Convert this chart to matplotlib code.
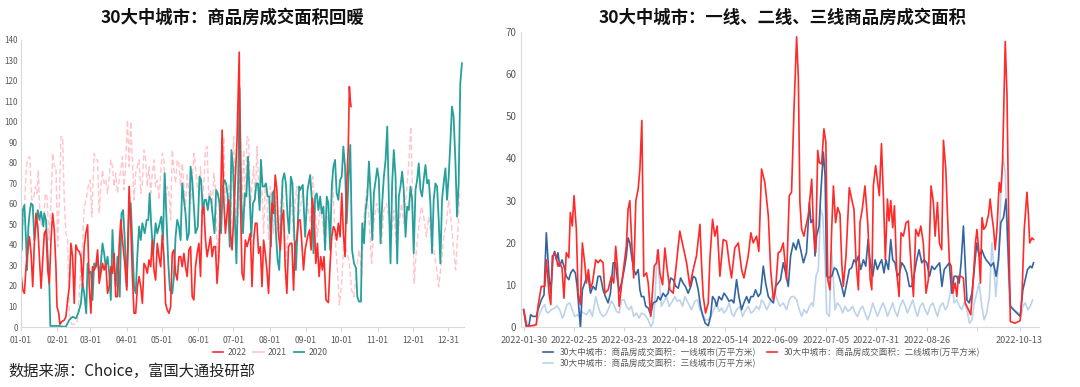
import matplotlib.pyplot as plt
import numpy as np

plt.rcParams['font.family'] = ['Noto Sans CJK SC', 'DejaVu Sans']

# ---------------- left chart: 30 cities, by day of year ----------------
d2022 = [0, 1.4, 2.8, 4.2, 5.7, 7.1, 8.5, 9.9, 11.3, 12.7, 14.2, 15.6, 17, 18.4, 19.8, 21.2, 22.7, 24.1, 25.5, 26.9,
         28.3, 29.7, 30.6, 32, 33.1, 34.6, 36.8, 38.2, 39.7, 41.1, 42.5, 43.9, 45.3, 46.7, 48.2, 49.6, 51, 52.4, 53.8, 55.2,
         56.7, 58.1, 59.5, 60.9, 62.3, 63.7, 65.2, 66.6, 68, 69.4, 70.8, 72.2, 73.7, 75.1, 76.5, 77.9, 79.3, 80.7, 82.2, 83.6,
         85, 86.4, 88.4, 90.1, 92.1, 93.5, 94.9, 96.3, 97.7, 99.2, 100.6, 102, 103.4, 104.8, 106.2, 107.6, 109.1, 110.5, 111.9, 113.3,
         114.7, 116.1, 117.6, 119, 120.4, 121.8, 123.2, 124.6, 126.1, 127.5, 128.9, 130.3, 131.7, 133.1, 134.6, 136, 137.4, 138.8, 140.2, 141.6,
         143.1, 144.5, 145.9, 147.3, 148.7, 150.1, 151.6, 153, 154.4, 155.8, 157.2, 158.6, 160.1, 161.5, 162.9, 164.3, 165.7, 167.1, 168.6, 170,
         171.4, 172.8, 174.2, 175.6, 177.1, 178.5, 179.9, 181.3, 182.7, 184.1, 186, 187, 188.4, 189.8, 191.2, 192.6, 194.1, 195.5, 196.9, 198.3,
         199.7, 201.1, 202.5, 204, 205.4, 206.8, 208.2, 209.6, 211, 212.5, 213.9, 215.3, 216.7, 218.1, 219.5, 221, 222.4, 223.8, 225.2, 226.6,
         228, 229.5, 230.9, 232.3, 233.7, 235.1, 236.5, 238, 239.4, 240.8, 242.2, 244.2, 245.9, 247.3, 248.4, 249.9, 251.3, 252.7, 254.1, 255.5,
         256.9, 258.3, 260, 262, 263.5, 264.9, 266.3, 267.7, 269.1, 270.5, 272, 273.4, 274.8, 276.2, 277.6, 279, 279.9, 280.7, 281.3]
v2022 = [25.4, 18, 16.4, 29.4, 37.6, 44, 35.9, 19.7, 40.8, 55.4, 49, 34.3, 18.9, 32.7, 45.7, 47.3, 27.8, 21.3, 42.4, 55.4,
         47.3, 29.4, 9.9, 7, 1.3, 2.6, 3.4, 5, 13.2, 19.7, 40.8, 34.3, 11.5, 40, 37.6, 36.7, 34.3, 19.7, 39.2, 45.7,
         49.8, 19.7, 6.7, 29.4, 27.8, 29.4, 37.6, 21.3, 26.2, 31, 27.8, 31, 16.4, 19.7, 29.4, 26.2, 35.9, 14.8, 14.8, 39.2,
         52.2, 42.4, 31, 18, 68.5, 50.6, 24.6, 6.7, 6.7, 19.7, 24.6, 19.7, 11.5, 31, 29.4, 26.2, 32.7, 29.4, 42.4, 27.8,
         22.9, 40.8, 34.3, 29.4, 44.9, 34.3, 11.5, 8.3, 6.7, 9.9, 35.9, 37.6, 26.2, 22.9, 34.3, 34.3, 29.4, 35.9, 29.4, 24.6,
         37.6, 39.2, 14.8, 13.2, 29.4, 35.9, 40.8, 24.6, 57, 58.7, 42.4, 34.3, 39.2, 44, 34.3, 39.2, 39.2, 21.3, 34.3, 57,
         96, 62, 45.7, 55.4, 62, 45.7, 37.6, 53.8, 73.3, 91.2, 134, 62, 26.2, 22.9, 42.4, 39.2, 42.4, 45.7, 19.7, 42.4,
         50.6, 50.6, 35.9, 39.2, 19.7, 42.4, 35.9, 27.8, 16.4, 39.2, 60.3, 55.4, 74.1, 66.8, 45.7, 37.6, 52.2, 57, 29.4, 16.4,
         39.2, 40.8, 40.8, 18, 40.8, 42.4, 52.2, 52.2, 40.8, 27.8, 37.6, 44, 47.3, 37.6, 62.8, 53.8, 31, 40.8, 24.6, 34.3,
         27.8, 34.3, 13.2, 11.9, 31, 44, 48.9, 47.3, 42.4, 50.6, 44, 65.2, 45.7, 34.3, 68.5, 88, 117.2, 110.7, 107.5]

d2021 = [0.6, 2.8, 4.5, 5.7, 7.4, 9.1, 10.5, 12.2, 13.6, 14.7, 16.1, 17.6, 19.3, 20.7, 22.1, 23.8, 25.5, 26.9, 28.3, 29.7,
         31.2, 32.6, 34, 35.4, 36.8, 38.2, 39.7, 41.1, 43.1, 45.9, 48.2, 51, 52.4, 53.8, 55.5, 57.2, 58.9, 60.3, 62.3, 63.7,
         65.2, 66.6, 68, 69.4, 70.8, 72.2, 73.7, 75.1, 76.5, 77.9, 79.3, 80.7, 82.2, 83.6, 85, 86.4, 87.8, 89.2, 90.7, 92.1,
         93.5, 94.9, 96.3, 97.7, 99.2, 100.6, 102, 103.4, 104.8, 106.2, 107.6, 109.1, 110.5, 111.9, 113.3, 114.7, 116.1, 117.6, 119, 120.4,
         121.8, 123.2, 124.6, 126.1, 127.5, 128.9, 130.3, 131.7, 133.1, 134.6, 136, 137.4, 138.8, 140.2, 141.6, 143.1, 144.5, 145.9, 147.3, 148.7,
         150.1, 151.6, 153, 154.4, 155.8, 157.2, 158.6, 160.1, 161.5, 162.9, 164.3, 165.7, 167.1, 168.6, 170, 171.4, 172.8, 174.2, 175.6, 177.1,
         178.5, 179.9, 181.3, 182.7, 184.1, 185.6, 187, 188.4, 189.8, 191.2, 192.6, 194.1, 195.5, 196.9, 198.3, 199.7, 201.1, 202.5, 204, 205.4,
         206.8, 208.2, 209.6, 211, 212.5, 213.9, 215.3, 216.7, 218.1, 219.5, 221, 222.4, 223.8, 225.2, 226.6, 228, 229.5, 230.9, 232.3, 233.7,
         235.1, 236.5, 238, 240.2, 242.2, 244.2, 246.5, 248.7, 250.7, 252.7, 255, 257.2, 259.2, 261.2, 263.5, 265.7, 267.7, 269.7, 271.4, 273.4,
         275.4, 277.6, 279.9, 281.9, 283.9, 286.1, 288.4, 290.4, 292.4, 294.6, 296.9, 298.9, 300.8, 303.1, 305.4, 307.4, 309.3, 311.6, 313.9, 315.9,
         317.8, 320.1, 322.4, 324.4, 326.3, 328.6, 330.6, 332.3, 333.7, 335.1, 337.1, 339.4, 341.4, 343.3, 345.6, 347.6, 349.9, 351.8, 354.1, 356.1,
         358.4, 360.3, 362.6, 364.6, 366.9, 368.8, 370.5, 372.2, 374]
v2021 = [45.7, 57, 78.2, 82.3, 83, 62, 62, 68.5, 65.2, 76.6, 53.8, 49, 53.8, 65.2, 63.6, 42.4, 62, 84.7, 78.2, 78.2,
         39.2, 62, 92.8, 92.8, 62, 45.7, 42.4, 6.7, 1.3, 1.3, 3.4, 29.4, 40.8, 58.7, 62, 68.5, 71.7, 53.8, 84.7, 81.5,
         81.5, 55.4, 68.5, 76.6, 70, 71.7, 65.2, 73.3, 81.5, 78.2, 68.5, 75, 65.2, 71.7, 76.6, 83, 66.8, 79.8, 101, 78.2,
         100.2, 81.5, 62, 75, 78.2, 81.5, 65.2, 70, 86.3, 81.5, 68.5, 78.2, 65.2, 75, 81.5, 68.5, 71.7, 62, 75, 84.7,
         81.5, 60.3, 68.5, 65.2, 52.2, 86.3, 76.6, 70, 81.5, 79.8, 68.5, 79.8, 68.5, 57, 75, 65.2, 60.3, 70, 84.7, 78.2,
         68.5, 65.2, 78.2, 49, 70, 86.3, 88, 62, 66.8, 55.4, 75, 68.5, 32.7, 45.7, 62, 70, 92.8, 62, 57, 70,
         37.6, 78.2, 92.8, 62, 45.7, 62, 92, 62, 86.3, 58.7, 92.8, 91.2, 57, 70, 78.2, 62, 88, 70, 60.3, 66.8,
         45.7, 70, 62, 42.4, 68.5, 62, 45.7, 63.6, 53.8, 42.4, 57, 68.5, 62, 29.4, 37.6, 49, 62, 58.7, 42.4, 62,
         68.5, 53.8, 57, 66.8, 50.6, 60.3, 50.6, 73.3, 57, 44, 58.7, 50.6, 37.6, 53.8, 50.6, 71.7, 44, 27.8, 10.7, 21.3,
         44, 37.6, 31, 17.9, 14.8, 29.4, 37.6, 24.6, 53.8, 66.8, 50.6, 31, 50.6, 60.3, 53.8, 40.8, 57, 60.3, 52.2, 44,
         57, 37.6, 50.6, 60.3, 50.6, 65.2, 79.8, 97.7, 66.8, 21.3, 37.6, 50.6, 58.7, 53.8, 44, 53.8, 44, 37.6, 29.4, 19.7,
         31, 44, 50.6, 62, 50.6, 37.6, 27.8, 44, 66.8]

d2020 = [0.6, 1.4, 2.8, 4.2, 5.1, 6.2, 7.4, 8.5, 9.9, 11.3, 12.5, 14.2, 15.6, 17, 19, 19.8, 21.2, 22.7, 24.1, 24.9,
         28.3, 32.6, 35.4, 38.2, 41, 43.9, 46.7, 48.7, 51, 52.4, 53.8, 55.5, 56.7, 58.1, 59.5, 60.9, 62.3, 63.7, 65.2, 67.1,
         69.4, 70.8, 72.2, 73.7, 75.1, 76.5, 77.9, 79.3, 80.7, 82.2, 84.1, 85.6, 87, 88.4, 90.1, 92.1, 93.5, 94.9, 96.3, 97.7,
         99.2, 100.6, 102, 103.4, 105.4, 107.1, 108.5, 109.6, 111, 112.7, 114.7, 116.1, 117.6, 119.5, 121, 122.4, 123.8, 125.5, 126.9, 128.9,
         130.3, 131.7, 133.1, 134.6, 136, 137.4, 138.8, 140.2, 141.6, 143.1, 144.5, 145.9, 147.3, 148.7, 150.7, 152.1, 153.5, 155, 156.4, 157.8,
         159.2, 160.6, 162, 163.5, 164.9, 166.3, 167.7, 169.1, 170.5, 172, 173.4, 174.8, 176.2, 177.9, 179.3, 180.7, 182.2, 183.6, 185, 186.3,
         187.8, 189.2, 190.7, 192.1, 193.5, 194.9, 196.3, 197.7, 199.2, 200.6, 202, 203.4, 204.5, 205.9, 207.4, 208.8, 210.2, 211.6, 213, 214.4,
         215.9, 217.3, 218.7, 220.1, 221.5, 223, 224.4, 225.8, 227.2, 228.6, 230, 231.4, 232.9, 234.3, 235.7, 237.1, 238, 240.2, 242.2, 244.2,
         246.5, 247.9, 249.3, 250.7, 252.1, 253.5, 255, 256.4, 257.8, 259.2, 260.6, 262, 263.5, 264.9, 266.3, 267.7, 269.1, 270.5, 272, 273.4,
         274.8, 276.2, 277.6, 279.3, 280.7, 282.2, 283.9, 285.6, 286.7, 288.1, 289.8, 290.9, 292.4, 293.8, 295.2, 296.6, 298, 299.4, 300.8, 302.5,
         303.7, 305.1, 306.5, 307.9, 309.3, 310.8, 312.2, 313.6, 315, 316.4, 317.8, 319.3, 320.7, 322.1, 323.5, 324.9, 326.3, 327.8, 329.2, 330.6,
         332, 333.4, 334.8, 336.3, 337.7, 339.1, 340.5, 341.9, 343.3, 344.8, 346.2, 347.6, 349, 350.4, 351.8, 353.3, 354.7, 356.1, 357.5, 358.9,
         360.3, 361.8, 363.2, 364.6, 366, 367.4, 368.8, 370.3, 371.7, 373.1, 374.5, 375.9]
v2020 = [37.6, 57, 59.5, 42.4, 27.8, 49, 56.3, 60.3, 59.5, 42.4, 49, 57, 52.2, 56.3, 49, 55.4, 52.2, 34.3, 19.7, 0.5,
         0.5, 0.5, 0.2, 0.2, 3.4, 5, 4.2, 6.7, 11.5, 21.3, 16.4, 6.7, 31, 26.2, 27, 13.2, 31, 29.4, 32.7, 24.6,
         40.8, 35.9, 29.4, 34.3, 26.2, 13.2, 47.3, 29.4, 19.7, 34.3, 14.8, 55.4, 57, 42.4, 19.7, 57, 60.3, 40.8, 19.7, 16.4,
         35.9, 49, 42.4, 50.6, 45.7, 52.2, 52.2, 65.2, 49, 35.9, 50.6, 45.7, 49, 53.8, 42.4, 75, 55.4, 31, 18, 16.4,
         24.6, 44, 52.2, 49, 42.4, 70, 62, 55.4, 42.4, 45.7, 78.2, 71.7, 58.7, 45.7, 49, 73.3, 71.7, 55.4, 62, 62,
         57, 63.6, 62, 53.8, 45.7, 66.8, 65.2, 60.3, 45.7, 68.5, 71.7, 70, 63.6, 39.2, 86.3, 78.2, 53.8, 31, 68.5, 116.5,
         62, 45.7, 65.2, 63.6, 83, 63.6, 44, 60.3, 62, 70, 70, 57, 81.5, 68.5, 68.5, 70, 63.6, 63.6, 39.2, 65.2,
         66.8, 45.7, 32.7, 27.8, 49, 71.7, 75, 70, 53.8, 45.7, 73.3, 70, 45.7, 27.8, 47.3, 68.5, 66.8, 69.3, 44, 66.8,
         74.1, 62, 36, 63.6, 65.2, 57, 63.6, 55.4, 58.7, 37.6, 63.6, 60.3, 37.6, 68.5, 78.2, 81.5, 65.2, 62, 71.7, 73.3,
         88, 78.2, 50.6, 73.3, 88.8, 37.6, 31, 28.6, 14.8, 12.4, 12.4, 50.6, 40.8, 57, 63.6, 80.7, 65.2, 42.4, 65.2, 72.5,
         77.4, 71.7, 40.8, 60.3, 73.3, 81.5, 97.7, 62, 31, 70, 86.3, 73.3, 31, 63.6, 68.5, 75.8, 66.8, 44, 58.7, 57,
         68.5, 62, 36, 66.8, 71.7, 79.8, 66.8, 63.6, 71.7, 79, 70, 71.7, 60.3, 36, 62, 70, 68.5, 52.2, 31, 62,
         70, 77.4, 62, 73.3, 89.6, 107.5, 102.6, 81.5, 53.8, 70, 118.9, 128.6]

left_ticks = [0, 31, 59, 90, 120, 151, 181, 212, 243, 273, 304, 334, 364]
left_labels = ['01-01', '02-01', '03-01', '04-01', '05-01', '06-01', '07-01',
               '08-01', '09-01', '10-01', '11-01', '12-01', '12-31']

# ---------------- right chart: tier 1/2/3 cities, days since 2022-01-30 ----------------
d_t1 = [0, 1.4, 2.8, 3.6, 4.8, 6.5, 7.4, 9.1, 10.5, 11.7, 13.1, 14, 15.2, 16, 16.9, 17.7, 18.6, 19.8, 20.8, 22,
        23.3, 24.3, 25.5, 26.7, 27.6, 28.4, 29.3, 30.3, 31.5, 32.4, 33.2, 34.5, 35.8, 37.2, 38.4, 39.6, 41, 42.2, 43.6, 44.8,
        46.2, 47.4, 48.4, 49.3, 50.5, 51.9, 53, 53.9, 54.8, 56, 56.8, 57.9, 59.1, 60, 60.8, 62, 63, 64.3, 65.6, 66.8,
        68.6, 69.4, 70.6, 72, 73.2, 74.6, 75.8, 77.2, 78.6, 79.8, 81, 82.3, 83.5, 84.9, 86.3, 87.5, 88.7, 90.1, 91.3, 92.3,
        93.7, 95.3, 96.5, 97.5, 98.7, 99.6, 100.8, 102.2, 103.4, 104.7, 106, 107.3, 108.5, 109.9, 111.1, 112.5, 113.7, 115.1, 116.3, 117.3,
        118.5, 119.7, 121.1, 122.3, 123.7, 124.9, 126.3, 127.5, 128.9, 130, 131.4, 132.6, 134, 135.2, 136.6, 137.8, 139.2, 140.6, 141.8, 143,
        144.4, 146, 147.5, 148.3, 149.5, 150.4, 151.2, 152.5, 153.5, 154.7, 155.6, 156.4, 157.3, 159, 160.4, 161.6, 163, 164.2, 165.4, 166.8,
        168.1, 169.3, 170.5, 171.6, 172.8, 174, 175.4, 176.6, 177.8, 178.9, 180.2, 181.4, 182.6, 184, 184.8, 186, 187, 188.3, 189.5, 190.5,
        191.7, 192.9, 194, 195.2, 196.4, 197.8, 199.1, 200.3, 201.7, 202.9, 204.1, 205.5, 206.7, 208.1, 209.5, 210.7, 212, 213.3, 214.7, 215.9,
        217.1, 218.4, 219.7, 221, 222.2, 223.6, 224.8, 225.8, 227, 227.9, 228.8, 230, 231.4, 232.6, 233.9, 235.1, 236.5, 237.7, 238.7, 240,
        241.2, 242.5, 243.9, 245.1, 246.3, 247.7, 249, 250.3, 251.2, 253.7, 256.3, 257.7, 258.9, 260.1, 261.5, 262.4, 263.2]
v_t1 = [4.2, 0.2, 0.6, 3, 2.6, 2.6, 4.2, 6.5, 7.7, 22.4, 12.1, 8.1, 16.9, 18, 16, 17.7, 14.5, 16, 14.5, 12.1,
        11.3, 12.9, 13.7, 12.9, 9.7, 5, 0, 8.9, 10.5, 11.7, 12.5, 8.1, 9.7, 8.9, 12.1, 12.1, 8.9, 7.3, 5.8, 8.1,
        15.3, 15.3, 11.3, 8.5, 10.5, 13.7, 16.9, 21.2, 20, 16, 13.7, 12.5, 13.7, 8.9, 7.3, 7.3, 5, 4.6, 3, 5.8,
        6.2, 7.3, 6.5, 8.1, 7.3, 8.1, 11.7, 11.3, 9.7, 9.3, 11.7, 10.5, 9.7, 8.1, 9.7, 12.1, 11.7, 8.9, 5, 3,
        1, 0.4, 2.6, 7.3, 6.5, 5, 7.3, 6.5, 8.1, 7.3, 6.2, 6.5, 5.8, 11.3, 7.3, 4.2, 5.8, 7.3, 5.8, 7.3,
        7.3, 8.9, 7.3, 8.1, 14.5, 10.5, 7.3, 6.5, 5.8, 9.7, 10.5, 11.3, 15.3, 12.9, 9.7, 16.9, 20, 18.4, 20.8, 18.4,
        15.3, 17.7, 29.6, 24.8, 25.6, 16.9, 21.6, 24, 32.7, 41.5, 35.9, 12.1, 11.7, 12.1, 14.1, 13.7, 11.7, 9.7, 7.3, 10.5,
        13.7, 14.1, 16, 15.3, 16.9, 13.7, 16, 14.5, 20.8, 15.3, 12.1, 16, 13.7, 15.3, 16, 12.9, 16, 13.7, 20.8, 16,
        15.3, 12.1, 12.9, 15.3, 14.5, 12.9, 9.7, 9.7, 12.9, 16, 18.4, 15.3, 16, 15.3, 12.1, 14.5, 13.7, 14.5, 15.3, 9.7,
        13.7, 14.5, 15.3, 8.1, 12.1, 12.1, 10.5, 15.3, 24, 15.3, 6.5, 5.8, 8.1, 13.7, 20, 16.9, 18.4, 16.9, 16, 15.3,
        14.5, 15.3, 12.1, 16, 24.8, 26, 30.4, 15.3, 5, 3.8, 2.6, 8.9, 11.3, 13.7, 14.5, 14.1, 15.3]

d_t2 = [0, 1.4, 6.5, 7.4, 9.1, 10.9, 11.7, 13.1, 14, 14.8, 16.5, 17.7, 18.6, 19.8, 20.8, 22, 23.3, 24.1, 25.1, 26,
        27.2, 28.1, 29.3, 30.3, 31.5, 32.4, 33.4, 34.5, 35.5, 37.2, 38.4, 39.6, 41, 41.9, 43.6, 45.3, 46.5, 47.5, 48.4, 49.3,
        51.3, 53, 53.9, 54.8, 55.8, 56.8, 57.9, 59.1, 60, 61, 62, 63.4, 64.3, 65.6, 67.4, 68.6, 69.4, 70.3, 71.7, 72.9,
        74.1, 75.5, 77.2, 78.9, 80.6, 82.3, 84.1, 85.8, 87.5, 89.2, 91, 91.8, 92.7, 93.9, 95.3, 96.1, 97.5, 98.7, 99.9, 101.3,
        103, 104.7, 106.1, 107.3, 109, 110.8, 112.5, 113.7, 115.9, 117.3, 118.5, 120.2, 121.4, 122.8, 124.5, 126.3, 127.5, 128.9, 130, 131.4,
        132.6, 134, 135.7, 137.1, 138.3, 139.5, 140.9, 141.8, 142.6, 143.5, 144.7, 145.7, 146.9, 148.7, 149.6, 150.7, 151.8, 152.6, 153.8, 155,
        156, 157, 158.1, 159, 159.9, 161, 162.1, 163.3, 164.2, 165, 166.4, 168.1, 169.3, 170.5, 171.6, 172.8, 173.6, 174.8, 176.2, 177.6,
        178.9, 179.7, 180.5, 181.7, 182.8, 183.6, 184.7, 185.7, 186.7, 187.8, 188.6, 189.5, 190.5, 191.4, 192.6, 193.8, 194.8, 196, 197.4, 198.6,
        200, 201.2, 202.4, 203.8, 205, 206.3, 207.7, 208.9, 210.3, 211.5, 212.4, 213.6, 214.6, 215.8, 216.7, 217.9, 218.8, 219.8, 220.7, 221.5,
        222.7, 223.6, 224.4, 225.7, 227, 227.9, 229.6, 230.8, 232, 233.2, 234, 234.9, 235.8, 236.6, 237.5, 238.6, 240, 240.8, 241.7, 242.6,
        243.4, 244.3, 245.5, 246.3, 247.2, 248.6, 249.5, 250.3, 251.2, 253.7, 256.3, 257.2, 258.4, 259.8, 260.6, 261.2, 262.4, 263.2]
v_t2 = [4.2, 0.2, 0.6, 5, 9.7, 9.7, 16, 8.1, 5.4, 16.9, 17.3, 14.5, 15.3, 14.1, 6.9, 17.7, 16.5, 27.2, 24, 31.2,
        23.2, 8.1, 5.4, 20, 15.3, 10.5, 13.7, 9.3, 10.5, 16, 15.3, 16, 15.3, 8.1, 8.9, 12.1, 10.5, 19.2, 14.5, 5,
        12.9, 19.2, 28, 30, 20, 11.7, 30, 32.7, 37.5, 49, 12.1, 12.9, 10.5, 2.6, 14.5, 15.3, 18.4, 12.9, 10.1, 18.8,
        13.7, 8.9, 8.1, 15.3, 22.8, 19.2, 15.3, 9.7, 13.7, 16.9, 24.4, 15.3, 7.3, 3.4, 5.8, 16, 25.6, 21.6, 24, 12.1,
        20.8, 20.4, 15.3, 11.7, 18.8, 20, 13.7, 11.7, 16.9, 22.4, 20, 21.6, 18, 37.5, 34.3, 26.4, 13.7, 6.5, 8.9, 17.7,
        18, 20, 11.3, 31.2, 32, 51, 68.8, 59, 29.6, 23.2, 21.6, 24, 26.4, 35.1, 23.2, 17.7, 41.9, 39, 38.7, 47,
        43.8, 11.3, 8.9, 23.2, 33.5, 24.8, 28.4, 26.8, 15.3, 9.7, 16.9, 33.1, 30.4, 28, 15.3, 8.9, 24.8, 28, 33.5, 24.8,
        11.3, 8.9, 33.5, 38.3, 34.3, 31.2, 43.5, 31.2, 16, 30.4, 25.2, 30, 23.6, 28.8, 12.9, 7.3, 22.4, 21.6, 24.8, 25.2,
        14.5, 7.3, 23.2, 21.6, 24, 20, 8.1, 11.3, 33.5, 29.6, 21.6, 29.6, 20, 18.4, 44.3, 37.5, 26.4, 15.3, 14.5, 8.1,
        10.5, 7.3, 12.1, 12.1, 11.7, 5.8, 4.2, 3, 10.5, 20, 23.2, 18.4, 10.5, 26, 23.2, 24, 26.8, 30.4, 26.4, 23.2,
        18.4, 23.2, 34.3, 32, 39, 67.7, 55, 28, 1.4, 1, 1.6, 7.3, 23.2, 32, 26.4, 20, 21.2, 20.8]

d_t3 = [0, 1, 2.2, 4.8, 6.5, 8.3, 9.6, 10.9, 11.7, 12.6, 14.3, 16, 17.2, 18.6, 20, 20.8, 22.4, 23.8, 25.1, 26.4,
        27.6, 28.6, 29.8, 31, 32.4, 34.1, 35.5, 37.2, 38.4, 39.6, 41, 42.4, 43.6, 45.3, 46.5, 47.9, 49.3, 50.5, 51.9, 53,
        54.4, 55.6, 56.8, 58.2, 59.6, 60.8, 62.5, 64.3, 65.6, 66.8, 67.7, 68.9, 69.9, 71.1, 72.5, 73.7, 75.1, 76.3, 78, 79.2,
        80.6, 82, 83.2, 84.9, 86.6, 88.4, 89.8, 91, 92.3, 93.7, 95.3, 97, 98.4, 99.6, 100.9, 102.2, 103.4, 104.7, 106.1, 107.3,
        108.5, 109.9, 111.6, 113, 114.2, 115.9, 117.3, 118.5, 120.2, 121.6, 122.8, 124, 125.4, 126.8, 128.2, 129.7, 130.9, 132.3, 134, 135.7,
        137.1, 138.3, 139.5, 140.9, 142.3, 143.5, 144.7, 146.1, 147.5, 148.7, 149.5, 150.9, 152.1, 153.3, 154.4, 155.6, 156.4, 157.8, 159, 159.9,
        160.7, 162, 163.3, 164.7, 165.9, 167.3, 168.5, 169.8, 171.1, 172.3, 173.6, 175, 176.2, 177.6, 178.9, 180.2, 181.4, 182.6, 184, 185.4,
        186.6, 187.8, 189.2, 190.5, 191.7, 192.9, 194.3, 195.7, 197, 198.1, 199.5, 200.9, 202.1, 203.3, 204.7, 206, 207.2, 208.5, 209.8, 211.2,
        212.4, 213.6, 215, 216.4, 217.6, 218.8, 220.2, 221.2, 222.2, 223.6, 225, 226.1, 227.4, 228.8, 230.1, 231.4, 232.6, 233.9, 235.1, 236.5,
        237.7, 239, 240.4, 241.7, 242.6, 243.7, 245.1, 246.3, 247.4, 248.6, 249.5, 250.8, 252.9, 255.5, 256.8, 257.7, 258.9, 260.3, 261.5, 262.7]
v_t3 = [4.2, 2.6, 0.2, 0, 1, 3.4, 4.6, 5.4, 3.8, 3.4, 4.2, 4.6, 5.1, 4.2, 2.2, 3, 5.4, 5.8, 4.2, 2.6,
        3, 2.6, 3.8, 3.4, 3, 4.2, 2.6, 7.3, 5, 3.4, 2.6, 3, 4.2, 6.2, 5.4, 3.8, 3.4, 6.5, 6.5, 5,
        4.2, 5, 2.6, 3.4, 2.2, 3.4, 3, 1.8, 0.2, 1, 5.8, 18.4, 12.1, 5, 6.2, 7.3, 5, 5.8, 7.3, 6.2,
        6.5, 5, 7.3, 5.8, 4.2, 6.2, 6.5, 4.2, 3.4, 1.8, 1.8, 3, 4.6, 5.8, 3.8, 4.6, 3.4, 4.2, 5.8, 3.4,
        2.6, 4.2, 5, 2.6, 3.8, 5, 3.4, 3.8, 5, 4.2, 6.5, 5.8, 4.2, 5.4, 7.3, 8.1, 6.5, 5, 5.8, 4.2,
        6.5, 7.3, 7.3, 6.5, 4.2, 2.6, 4.2, 3.4, 5, 5.8, 5, 12.1, 13.7, 28, 26.4, 15.3, 3.4, 2.6, 18, 11.3,
        4.2, 5.8, 5, 3.4, 5, 3.8, 4.2, 5, 3.4, 2.6, 4.2, 5, 3.4, 1.8, 3.4, 5.8, 4.2, 2.6, 4.2, 5.8,
        4.6, 2.6, 4.2, 5.8, 3.8, 2.6, 5, 6.5, 5, 3.4, 5, 6.5, 4.2, 2.6, 5, 5.8, 4.2, 3, 5, 5.8,
        4.2, 2.6, 5, 5.8, 4.2, 5, 8.1, 10.5, 5.8, 6.5, 5, 4.2, 5.8, 4.2, 1, 1.8, 5.8, 8.1, 10.5, 5,
        1.8, 3.4, 7.3, 20, 15.3, 7.3, 15.3, 31.2, 40.7, 36.7, 23.2, 5.8, 4.2, 3.4, 2.6, 5, 5.8, 4.2, 5, 6.5]

right_ticks = [0, 26, 52, 78, 104, 130, 156, 182, 208, 234, 256]
right_labels = ['2022-01-30', '2022-02-25', '2022-03-23', '2022-04-18', '2022-05-14', '2022-06-09',
                '2022-07-05', '2022-07-31', '2022-08-26', '', '2022-10-13']

names = ['30大中城市：商品房成交面积：一线城市(万平方米)',
         '30大中城市：商品房成交面积：二线城市(万平方米)',
         '30大中城市：商品房成交面积：三线城市(万平方米)']

fig = plt.figure(figsize=(10.8, 3.87), dpi=100)
ax1 = fig.add_axes([0.019, 0.155, 0.411, 0.742])
ax2 = fig.add_axes([0.482, 0.154, 0.480, 0.764])

grey = '#D9D9D9'
for ax in (ax1, ax2):
    for s in ('top', 'right'):
        ax.spines[s].set_visible(False)
    ax.spines['left'].set_color(grey)
    ax.spines['bottom'].set_color(grey)
    ax.tick_params(axis='y', length=0, colors='#595959', pad=3)
    ax.tick_params(axis='x', length=3, color=grey, colors='#595959')

# left
l21, = ax1.plot(d2021, v2021, color='#FFC4CC', lw=1.0, ls=(0, (4, 2)), label='2021')
l20, = ax1.plot(d2020, v2020, color='#26A09A', lw=1.3, label='2020')
l22, = ax1.plot(d2022, v2022, color='#FF2A2A', lw=1.2, label='2022')
ax1.set_xlim(-0.5, 378)
ax1.set_ylim(0, 140)
ax1.set_yticks(np.arange(0, 141, 10))
ax1.set_xticks(left_ticks)
ax1.set_xticklabels(left_labels, fontsize=6.2)
ax1.tick_params(axis='y', labelsize=5.8, pad=2)
h21 = plt.Line2D([], [], color='#FFC4CC', lw=1.2)
fig.legend([l22, h21, l20], ['2022', '2021', '2020'], loc='center',
           bbox_to_anchor=(0.25, 0.088), ncol=3, frameon=False, fontsize=6.2,
           handlelength=1.2, columnspacing=0.8, handletextpad=0.5, labelcolor='#595959')
fig.text(0.215, 0.955, '30大中城市：商品房成交面积回暖', ha='center', va='center',
         fontsize=12.5, fontweight='bold', color='#111111')

# right
a, = ax2.plot(d_t3, v_t3, color='#BDD3EA', lw=1.2)
b, = ax2.plot(d_t1, v_t1, color='#3465A0', lw=1.2)
c, = ax2.plot(d_t2, v_t2, color='#FF2A2A', lw=1.2)
ax2.set_xlim(-1.6, 266)
ax2.set_ylim(0, 70)
ax2.set_yticks(np.arange(0, 71, 10))
ax2.set_xticks(right_ticks)
ax2.set_xticklabels(right_labels, fontsize=6.5)
ax2.tick_params(axis='y', labelsize=7)
fig.legend([b, a, c], [names[0], names[2], names[1]], loc='center',
           bbox_to_anchor=(0.705, 0.075), ncol=2, frameon=False, fontsize=6.2,
           handlelength=1.2, columnspacing=1.2, handletextpad=0.8, labelcolor='#595959',
           labelspacing=0.2)
fig.text(0.725, 0.955, '30大中城市：一线、二线、三线商品房成交面积', ha='center', va='center',
         fontsize=12.5, fontweight='bold', color='#111111')

fig.text(0.008, 0.04, '数据来源：Choice，富国大通投研部', ha='left', va='center',
         fontsize=11, color='#222222')

fig.savefig('out.png', dpi=100)
